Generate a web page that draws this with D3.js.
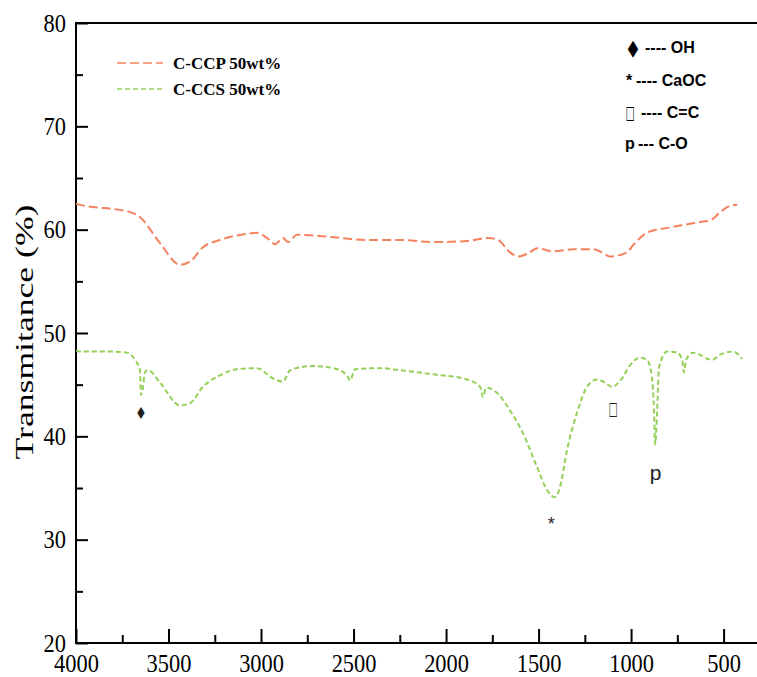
<!DOCTYPE html>
<meta charset="utf-8">
<style>
body { margin: 0; background: #fff; }
.axis .domain { display: none; }
.axis line { stroke: #000; stroke-width: 2; }
.axis text { font-family: "Liberation Serif", "Times New Roman", serif; font-size: 25px; fill: #000; }
.frame { stroke: #000; stroke-width: 2; }
</style>
<svg width="757" height="677"></svg>
<script src="https://d3js.org/d3.v7.min.js"></script>
<script>
// C-CCP 50wt% (orange) : wavenumber / transmitance
var ccpWn = [4000, 3978, 3708, 3654, 3546, 3438, 3384, 3314, 3222, 3076, 3022, 2968, 2924, 2881, 2854, 2805,
  2627, 2427, 2249, 2070, 1886, 1773, 1719, 1654, 1611, 1557, 1508, 1422, 1314, 1205, 1157, 1114,
  1022, 989, 914, 827, 735, 643, 562, 519, 465, 427];
var ccpT = [62.5, 62.4, 61.7, 61.2, 58.7, 56.6, 56.9, 58.3, 59.0, 59.6, 59.7, 59.2, 58.6, 59.2, 58.8, 59.5,
  59.3, 59.0, 59.0, 58.8, 58.9, 59.2, 59.0, 57.8, 57.4, 57.7, 58.2, 57.9, 58.1, 58.1, 57.8, 57.4,
  57.8, 58.5, 59.7, 60.1, 60.4, 60.7, 61.0, 61.7, 62.3, 62.4];

// C-CCS 50wt% (green)
var ccsWn = [4000, 3978, 3800, 3724, 3681, 3654, 3649, 3642, 3627, 3611, 3546, 3438, 3384, 3314, 3222, 3130,
  3022, 2935, 2881, 2843, 2719, 2611, 2535, 2519, 2492, 2357, 2249, 2070, 1886, 1816, 1800, 1784,
  1724, 1654, 1584, 1508, 1454, 1411, 1384, 1346, 1292, 1238, 1184, 1141, 1103, 1049, 1005, 951,
  914, 887, 876, 870, 859, 849, 805, 751, 724, 714, 703, 665, 562, 519, 449, 400];
var ccsT = [48.3, 48.2, 48.2, 48.1, 47.4, 46.4, 44.0, 44.3, 46.2, 46.4, 45.2, 43.0, 43.2, 44.8, 45.9, 46.5,
  46.6, 45.6, 45.3, 46.4, 46.8, 46.6, 45.9, 45.4, 46.5, 46.6, 46.4, 46.0, 45.5, 44.8, 43.8, 44.7,
  44.2, 42.5, 40.3, 37.0, 34.8, 34.1, 35.1, 38.7, 42.3, 44.8, 45.5, 45.2, 44.8, 45.6, 46.9, 47.6,
  47.4, 45.7, 42.5, 39.2, 42.5, 46.7, 48.2, 48.1, 47.4, 46.2, 47.4, 48.1, 47.4, 47.9, 48.2, 47.5];

var seriesNames = ["C-CCP 50wt%", "C-CCS 50wt%"];
var seriesColors = ["#f5825e", "#94d058"];

var xMajor = [4000, 3500, 3000, 2500, 2000, 1500, 1000, 500];
var xMinor = [3750, 3250, 2750, 2250, 1750, 1250, 750];
var yMajor = [20, 30, 40, 50, 60, 70, 80];
var yMinor = [25, 35, 45, 55, 65, 75];

// band assignment key and the marks on the green curve
var keySymbols = ["\u25C6", "*", "\u25A1", "p"];
var keyLabels = ["---- OH", "---- CaOC", "---- C=C", "--- C-O"];
var markWn = [3649, 1432, 1097, 868];
var markT = [42.4, 32.2, 42.7, 36.4];

var svg = d3.select("svg");

var x = d3.scaleLinear().domain([4000, 500]).range([76, 723.6]);
var y = d3.scaleLinear().domain([20, 80]).range([643, 23]);

// frame lines (left, bottom, top)
svg.append("line").attr("class", "frame")
  .attr("x1", 76).attr("x2", 76).attr("y1", y(80) - 1).attr("y2", y(20) + 1);
svg.append("line").attr("class", "frame")
  .attr("x1", 75).attr("x2", 757).attr("y1", y(20)).attr("y2", y(20));
svg.append("line").attr("class", "frame")
  .attr("x1", 75).attr("x2", 757).attr("y1", y(80)).attr("y2", y(80));

function stretch(sel) {
  sel.selectAll("text")
    .attr("textLength", function(d) { return String(d).length * 11.2; })
    .attr("lengthAdjust", "spacingAndGlyphs");
}

svg.append("g").attr("class", "axis")
  .attr("transform", "translate(76,0)")
  .call(d3.axisLeft(y).tickValues(yMajor).tickSizeInner(-12).tickSizeOuter(0).tickPadding(10))
  .call(stretch);
svg.append("g").attr("class", "axis")
  .attr("transform", "translate(76,0)")
  .call(d3.axisLeft(y).tickValues(yMinor).tickSizeInner(-7).tickSizeOuter(0).tickFormat(""));

svg.append("g").attr("class", "axis")
  .attr("transform", "translate(0," + y(20) + ")")
  .call(d3.axisBottom(x).tickValues(xMajor).tickFormat(d3.format("d"))
    .tickSizeInner(-14).tickSizeOuter(0).tickPadding(11))
  .call(stretch);
svg.append("g").attr("class", "axis")
  .attr("transform", "translate(0," + y(20) + ")")
  .call(d3.axisBottom(x).tickValues(xMinor).tickSizeInner(-8).tickSizeOuter(0).tickFormat(""));

svg.append("text")
  .attr("transform", "translate(33,332) rotate(-90)")
  .attr("text-anchor", "middle")
  .attr("font-family", "Liberation Serif, Times New Roman, serif")
  .attr("font-size", 26)
  .attr("textLength", 255)
  .attr("lengthAdjust", "spacingAndGlyphs")
  .text("Transmitance (%)");

var line = d3.line()
  .x(function(d) { return x(d[0]); })
  .y(function(d) { return y(d[1]); })
  .curve(d3.curveMonotoneX);

var series = [d3.zip(ccpWn, ccpT), d3.zip(ccsWn, ccsT)];
var dashes = ["9,4", "5,3"];

svg.selectAll("path.series")
  .data(series)
  .enter().append("path")
    .attr("class", "series")
    .attr("fill", "none")
    .attr("stroke", function(d, i) { return seriesColors[i]; })
    .attr("stroke-width", 2)
    .attr("stroke-dasharray", function(d, i) { return dashes[i]; })
    .attr("d", line);

// legend
var legend = svg.selectAll("g.legend")
  .data(seriesNames)
  .enter().append("g")
    .attr("class", "legend")
    .attr("transform", function(d, i) { return "translate(117," + (63 + i * 26) + ")"; });

legend.append("line")
  .attr("x1", 0).attr("x2", 46)
  .attr("stroke", function(d, i) { return seriesColors[i]; })
  .attr("stroke-width", 1.5)
  .attr("stroke-dasharray", function(d, i) { return dashes[i]; });

legend.append("text")
  .attr("x", 56)
  .attr("y", 5.5)
  .attr("font-family", "Liberation Serif, Times New Roman, serif")
  .attr("font-weight", "bold")
  .attr("font-size", 17)
  .text(function(d) { return d; });

// glyph squeeze: diamond and box are tall and narrow in the reference
function squeeze(i, cx, cy) {
  var s = i == 0 ? "scale(0.8,1.3)" : (i == 2 ? "scale(0.6,1.15)" : null);
  return s ? "translate(" + cx + "," + cy + ") " + s + " translate(" + (-cx) + "," + (-cy) + ")" : null;
}

// band key, top right
var key = svg.selectAll("g.key")
  .data(keyLabels)
  .enter().append("g")
    .attr("class", "key")
    .attr("transform", function(d, i) { return "translate(0," + [53, 86, 118, 149][i] + ")"; });

key.append("text")
  .attr("x", function(d, i) { return [633, 629, 630, 630][i]; })
  .attr("text-anchor", "middle")
  .attr("font-family", function(d, i) { return i == 0 || i == 2 ? "DejaVu Sans" : "Liberation Sans, Arial, sans-serif"; })
  .attr("font-weight", function(d, i) { return i == 2 ? "normal" : "bold"; })
  .attr("font-size", function(d, i) { return [17, 16, 16, 16][i]; })
  .attr("transform", function(d, i) { return squeeze(i, [633, 629, 630, 630][i], -5); })
  .text(function(d, i) { return keySymbols[i]; });

key.append("text")
  .attr("x", function(d, i) { return [645, 636, 641, 638][i]; })
  .attr("font-family", "Liberation Sans, Arial, sans-serif")
  .attr("font-weight", "bold")
  .attr("font-size", 16)
  .text(function(d) { return d; });

// marks along the green curve
svg.selectAll("text.mark")
  .data(keySymbols)
  .enter().append("text")
    .attr("class", "mark")
    .attr("x", function(d, i) { return x(markWn[i]); })
    .attr("y", function(d, i) { return y(markT[i]); })
    .attr("text-anchor", "middle")
    .attr("dy", function(d, i) { return ["0.35em", "0.75em", "0.35em", "0.3em"][i]; })
    .attr("font-family", function(d, i) { return i == 0 || i == 2 ? "DejaVu Sans" : "Liberation Sans, Arial, sans-serif"; })
    .attr("font-size", function(d, i) { return [12, 18, 16, 21][i]; })
    .attr("transform", function(d, i) { return squeeze(i, x(markWn[i]), y(markT[i])); })
    .attr("fill", "#222")
    .text(function(d) { return d; });
</script>
